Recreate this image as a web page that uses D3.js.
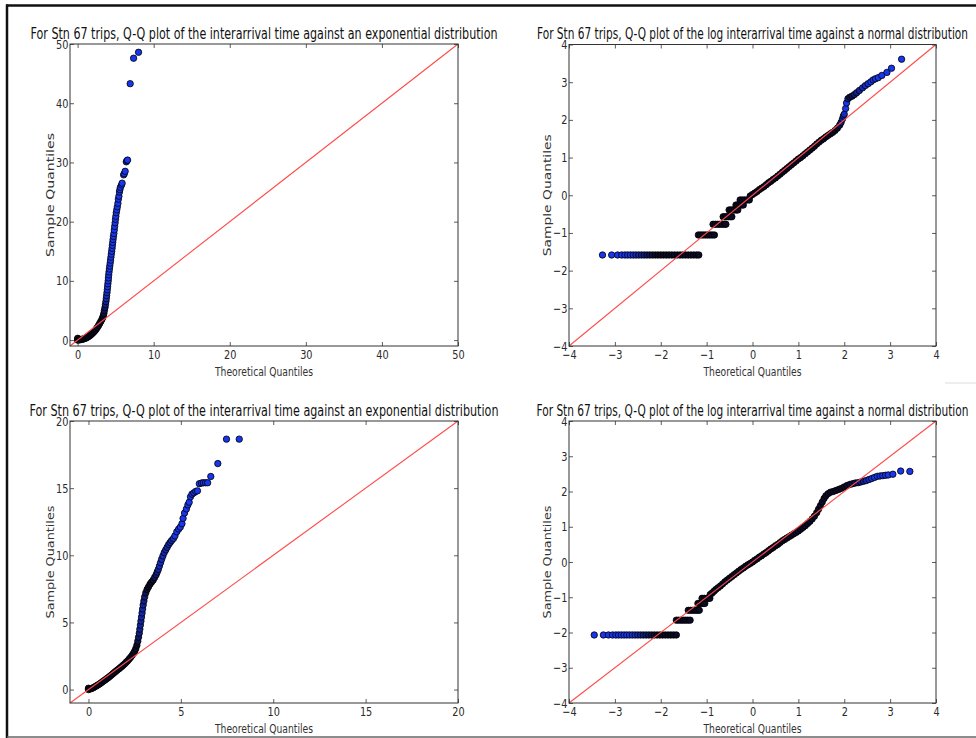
<!DOCTYPE html>
<html>
<head>
<meta charset="utf-8">
<script src="https://cdn.jsdelivr.net/npm/d3@7"></script>
<style>
  html, body { margin: 0; padding: 0; background: #fff; }
  svg { display: block; }
</style>
</head>
<body>
<svg id="chart" width="976" height="738"></svg>
<script>
// ---- text ----
const titleExp = "For Stn 67 trips, Q-Q plot of the interarrival time against an exponential distribution";
const titleLog = "For Stn 67 trips, Q-Q plot of the log interarrival time against a normal distribution";
const xLabel = "Theoretical Quantiles";
const yLabel = "Sample Quantiles";

// ---- tick values ----
const expTopTicks = [0, 10, 20, 30, 40, 50];
const expBottomTicks = [0, 5, 10, 15, 20];
const logTicks = [-4, -3, -2, -1, 0, 1, 2, 3, 4];

// ---- quantile pairs: [theoretical, sample] ----
const expTopPoints = [
  [0,0],[0,0.15],[0.02,0.3],[0.1,0.02],[0.2,0.04],[0.35,0.07],[0.5,0.1],[0.65,0.15],
  [0.8,0.2],[0.95,0.27],[1.1,0.35],[1.25,0.45],[1.4,0.57],[1.55,0.7],[1.7,0.85],
  [1.85,1.02],[2.0,1.2],[2.15,1.4],[2.3,1.62],[2.45,1.87],[2.6,2.15],[2.75,2.45],
  [2.9,2.8],[3.05,3.15],[3.2,3.5],[3.3,3.8],[3.38,4.1],[3.45,4.5],[3.52,5.0],
  [3.6,5.5],[3.66,6.0],[3.72,6.5],[3.77,7.0],[3.81,7.5],[3.86,8.0],[3.9,8.5],
  [3.94,9.0],[3.98,9.5],[4.02,10.0],[4.05,10.5],[4.09,11.0],[4.13,11.5],[4.18,12.0],
  [4.23,12.5],[4.28,13.0],[4.33,13.5],[4.38,14.0],[4.43,14.5],[4.48,15.0],[4.53,15.5],
  [4.57,16.0],[4.62,16.5],[4.66,17.0],[4.71,17.5],[4.77,18.0],[4.82,18.6],[4.87,19.2],
  [4.93,19.8],[4.98,20.4],[5.03,20.9],[5.08,21.5],[5.15,22.0],[5.22,22.5],[5.3,23.1],
  [5.36,23.8],[5.43,24.3],[5.5,25.0],[5.56,25.4],[5.62,25.8],[5.78,26.2],[5.85,26.5],
  [6.05,27.9],[6.13,28.1],[6.25,28.5],[6.4,30.1],[6.48,30.3],[6.57,30.4],
  [6.91,43.3],[7.36,47.6],[8.01,48.6]
];

const expBottomPoints = [
  [0,0],[0,0.1],[0.05,0.05],[0.12,0.05],[0.2,0.1],[0.28,0.15],[0.36,0.22],[0.44,0.28],
  [0.52,0.35],[0.6,0.42],[0.68,0.5],[0.76,0.58],[0.84,0.66],[0.92,0.74],[1.0,0.82],
  [1.08,0.9],[1.16,0.99],[1.24,1.08],[1.32,1.18],[1.4,1.27],[1.48,1.36],[1.56,1.45],
  [1.64,1.54],[1.72,1.63],[1.8,1.72],[1.88,1.82],[1.96,1.92],[2.04,2.03],[2.12,2.14],
  [2.2,2.27],[2.28,2.4],[2.36,2.55],[2.44,2.7],[2.5,2.85],[2.56,3.05],[2.62,3.3],
  [2.67,3.6],[2.71,3.9],[2.75,4.2],[2.78,4.5],[2.81,4.8],[2.84,5.1],[2.87,5.4],
  [2.9,5.7],[2.93,6.0],[2.96,6.3],[3.0,6.6],[3.04,6.9],[3.1,7.2],[3.17,7.45],
  [3.25,7.65],[3.33,7.85],[3.41,8.0],[3.5,8.15],[3.58,8.35],[3.66,8.55],[3.72,8.75],
  [3.78,8.95],[3.84,9.2],[3.9,9.45],[3.96,9.7],[4.03,9.95],[4.1,10.2],[4.18,10.4],
  [4.26,10.6],[4.34,10.8],[4.42,10.95],[4.5,11.1],[4.6,11.25],[4.68,11.45],[4.78,11.75],
  [4.88,11.95],[4.97,12.1],[5.06,12.35],[5.12,12.75],[5.2,13.15],[5.3,13.45],[5.38,13.75],
  [5.45,13.95],[5.52,14.35],[5.6,14.55],[5.7,14.65],[5.8,14.75],[5.9,14.8],[6.0,15.33],
  [6.12,15.38],[6.22,15.4],[6.34,15.4],[6.45,15.4],[6.62,15.87],[7.0,16.83],
  [7.47,18.65],[8.16,18.65]
];

// tied sample values: one sample level shared by a run of theoretical quantiles
const logTopRuns = [
  { sample: -1.585, theo: [-3.27,-3.07,-2.94,-2.85,-2.78,-2.72,-2.66,-2.6,-2.54,-2.48,-2.42,-2.36,
      -2.3,-2.24,-2.18,-2.12,-2.06,-2.0,-1.94,-1.88,-1.82,-1.76,-1.7,-1.64,-1.58,-1.52,-1.46,
      -1.4,-1.34,-1.28,-1.22,-1.17] },
  { sample: -1.054, theo: [-1.18,-1.13,-1.08,-1.03,-0.98,-0.93,-0.88,-0.83] },
  { sample: -0.77,  theo: [-0.86,-0.81,-0.76,-0.71,-0.66,-0.61,-0.58] },
  { sample: -0.57,  theo: [-0.64,-0.6,-0.56,-0.52,-0.48,-0.45] },
  { sample: -0.39,  theo: [-0.51,-0.47,-0.43,-0.39,-0.35,-0.32] },
  { sample: -0.26,  theo: [-0.36,-0.32,-0.28,-0.24,-0.2] },
  { sample: -0.125, theo: [-0.27,-0.22,-0.17,-0.12,-0.07] }
];
const logTopPoints = [
  [-0.05,-0.02],[0,0.02],[0.05,0.06],[0.1,0.1],[0.15,0.15],[0.2,0.19],[0.25,0.23],[0.3,0.28],
  [0.35,0.33],[0.4,0.37],[0.45,0.42],[0.5,0.46],[0.55,0.51],[0.6,0.56],[0.65,0.61],[0.7,0.66],
  [0.75,0.71],[0.8,0.76],[0.85,0.81],[0.9,0.86],[0.95,0.91],[1.0,0.96],[1.05,1.0],[1.1,1.05],
  [1.15,1.1],[1.2,1.15],[1.25,1.2],[1.3,1.25],[1.35,1.3],[1.4,1.36],[1.45,1.41],[1.5,1.46],
  [1.55,1.5],[1.6,1.55],[1.65,1.59],[1.7,1.63],[1.75,1.67],[1.8,1.72],[1.85,1.78],[1.9,1.86],
  [1.93,1.93],[1.96,2.02],[1.98,2.1],[2.0,2.15],[2.03,2.3],[2.05,2.45],[2.08,2.56],[2.12,2.6],
  [2.17,2.63],[2.22,2.67],[2.27,2.72],[2.33,2.78],[2.4,2.85],[2.46,2.91],[2.52,2.96],
  [2.58,3.01],[2.63,3.06],[2.68,3.09],[2.74,3.12],[2.82,3.18],[2.93,3.26],[3.03,3.37],[3.25,3.61]
];

const logBottomRuns = [
  { sample: -2.07, theo: [-3.45,-3.25,-3.14,-3.05,-2.98,-2.92,-2.86,-2.8,-2.74,-2.68,-2.62,-2.56,
      -2.5,-2.44,-2.38,-2.32,-2.26,-2.2,-2.14,-2.08,-2.02,-1.96,-1.9,-1.84,-1.78,-1.72,-1.66] },
  { sample: -1.65,  theo: [-1.66,-1.61,-1.56,-1.51,-1.46,-1.41,-1.36] },
  { sample: -1.37,  theo: [-1.4,-1.35,-1.3,-1.25,-1.2,-1.16] },
  { sample: -1.175, theo: [-1.19,-1.15,-1.11,-1.07,-1.04] },
  { sample: -1.03,  theo: [-1.1,-1.05,-1.0,-0.96,-0.93] }
];
const logBottomPoints = [
  [-0.92,-0.92],[-0.88,-0.88],[-0.84,-0.83],[-0.8,-0.78],[-0.75,-0.73],[-0.7,-0.68],[-0.65,-0.62],
  [-0.6,-0.56],[-0.55,-0.51],[-0.5,-0.46],[-0.45,-0.41],[-0.4,-0.36],[-0.35,-0.31],[-0.3,-0.26],
  [-0.25,-0.21],[-0.2,-0.17],[-0.15,-0.12],[-0.1,-0.08],[-0.05,-0.04],[0,0],[0.05,0.05],
  [0.1,0.09],[0.15,0.14],[0.2,0.18],[0.25,0.23],[0.3,0.27],[0.35,0.32],[0.4,0.37],[0.45,0.41],
  [0.5,0.46],[0.55,0.5],[0.6,0.55],[0.65,0.6],[0.7,0.64],[0.75,0.68],[0.8,0.72],[0.85,0.76],
  [0.9,0.8],[0.95,0.84],[1.0,0.88],[1.05,0.93],[1.1,0.98],[1.15,1.03],[1.2,1.09],[1.25,1.15],
  [1.3,1.22],[1.35,1.3],[1.4,1.4],[1.44,1.5],[1.48,1.6],[1.52,1.7],[1.56,1.8],[1.6,1.88],
  [1.65,1.94],[1.7,1.98],[1.76,2.0],[1.82,2.03],[1.88,2.06],[1.94,2.09],[2.0,2.13],[2.06,2.17],
  [2.12,2.2],[2.18,2.22],[2.24,2.24],[2.3,2.25],[2.36,2.27],[2.42,2.29],[2.48,2.31],[2.54,2.34],
  [2.6,2.37],[2.66,2.4],[2.72,2.43],[2.78,2.44],[2.84,2.45],[2.9,2.46],[2.96,2.47],[3.06,2.49],
  [3.23,2.58],[3.43,2.57]
];

// ---- layout of the four axes ----
const panels = [
  { title: titleExp, titleW: 467, titleY: 39, domain: [-1, 50], ticks: expTopTicks, dist: "exp",
    points: expTopPoints, runs: [], box: { x0: 70, x1: 458, y0: 44, y1: 346 },
    yLabelX: 53.5, yLabelLen: 124 },
  { title: titleLog, titleW: 431, titleY: 39, domain: [-4, 4], ticks: logTicks, dist: "norm",
    points: logTopPoints, runs: logTopRuns, box: { x0: 569, x1: 936, y0: 44.5, y1: 346 },
    yLabelX: 550.5, yLabelLen: 122 },
  { title: titleExp, titleW: 469, titleY: 416, domain: [-1, 20], ticks: expBottomTicks, dist: "exp",
    points: expBottomPoints, runs: [], box: { x0: 70, x1: 458, y0: 421, y1: 703 },
    yLabelX: 53.5, yLabelLen: 113 },
  { title: titleLog, titleW: 432, titleY: 416, domain: [-4, 4], ticks: logTicks, dist: "norm",
    points: logBottomPoints, runs: logBottomRuns, box: { x0: 569, x1: 936, y0: 421, y1: 703 },
    yLabelX: 550.5, yLabelLen: 113 }
];

const svg = d3.select("#chart");
svg.append("rect").attr("width", 976).attr("height", 738).attr("fill", "#fff");

const fmt = d => (d < 0 ? "\u2212" + Math.abs(d) : String(d));
const font = "'DejaVu Sans', sans-serif";

// Where the sample is thick on the screen, the markers' black edges pile up and
// the trail reads as near-black; in the sparse tails the blue fill shows.
// Thickness ~ reference density at the theoretical quantile / on-screen speed.
const pdf = {
  exp: t => Math.exp(-Math.max(0, t)),
  norm: t => Math.exp(-t * t / 2) / Math.sqrt(2 * Math.PI)
};
const shade = d3.scaleLog().domain([2.5e-4, 1e-3]).range([0, 1]).clamp(true);
const markColor = d3.interpolateRgb("#1836ee", "#0b0b26");

function tonedGroup(pairs, x, y, density) {
  const s = pairs.slice().sort((a, c) => a[0] - c[0]);
  return s.map((d, i) => {
    const a = s[Math.max(0, i - 1)], c = s[Math.min(s.length - 1, i + 1)];
    const dt = Math.max(0.02, c[0] - a[0]);
    const ds = Math.max(0.5, Math.hypot(x(c[0]) - x(a[0]), y(c[1]) - y(a[1])));
    return { t: d[0], v: d[1], tone: shade(density(d[0]) * dt / ds) };
  });
}

panels.forEach(p => {
  const b = p.box;
  const x = d3.scaleLinear().domain(p.domain).range([b.x0, b.x1]);
  const y = d3.scaleLinear().domain(p.domain).range([b.y1, b.y0]);
  const g = svg.append("g");

  // markers, drawn in ascending order of theoretical quantile
  const groups = [p.points].concat(p.runs.map(r => r.theo.map(t => [t, r.sample])));
  const marks = groups.flatMap(gr => tonedGroup(gr, x, y, pdf[p.dist]))
    .sort((a, c) => a.t - c.t);
  g.append("g")
    .selectAll("circle")
    .data(marks)
    .join("circle")
    .attr("cx", d => x(d.t))
    .attr("cy", d => y(d.v))
    .attr("r", 3.2)
    .attr("fill", d => markColor(d.tone))
    .attr("stroke", "#000")
    .attr("stroke-width", 0.8);

  // 45-degree reference line
  g.append("line")
    .attr("x1", x(p.domain[0])).attr("y1", y(p.domain[0]))
    .attr("x2", x(p.domain[1])).attr("y2", y(p.domain[1]))
    .attr("stroke", "#ff4a4a")
    .attr("stroke-width", 1.1);

  // axes: inward ticks on all four sides
  const axB = g.append("g").attr("transform", `translate(0,${b.y1})`)
    .call(d3.axisBottom(x).tickValues(p.ticks).tickSize(-4).tickPadding(4.5).tickFormat(fmt));
  const axT = g.append("g").attr("transform", `translate(0,${b.y0})`)
    .call(d3.axisTop(x).tickValues(p.ticks).tickSize(-4).tickFormat(""));
  const axL = g.append("g").attr("transform", `translate(${b.x0},0)`)
    .call(d3.axisLeft(y).tickValues(p.ticks).tickSize(-4).tickPadding(2).tickFormat(fmt));
  const axR = g.append("g").attr("transform", `translate(${b.x1},0)`)
    .call(d3.axisRight(y).tickValues(p.ticks).tickSize(-4).tickFormat(""));
  [axB, axT, axL, axR].forEach(a => {
    a.select(".domain").remove();
    a.selectAll(".tick line").attr("stroke", "#333").attr("stroke-width", 0.8);
    a.selectAll(".tick text")
      .attr("fill", "#2a2a2a")
      .style("font-family", font)
      .style("font-size", "12.5px")
      .attr("transform", "scale(0.78,1)");
  });

  // frame
  g.append("rect")
    .attr("x", b.x0).attr("y", b.y0)
    .attr("width", b.x1 - b.x0).attr("height", b.y1 - b.y0)
    .attr("fill", "none").attr("stroke", "#333").attr("stroke-width", 1);

  // labels
  const cx = (b.x0 + b.x1) / 2;
  const cy = (b.y0 + b.y1) / 2;
  svg.append("text")
    .attr("x", cx).attr("y", p.titleY)
    .attr("text-anchor", "middle")
    .attr("textLength", p.titleW).attr("lengthAdjust", "spacingAndGlyphs")
    .style("font-family", font).style("font-size", "16.5px")
    .attr("fill", "#111")
    .text(p.title);
  svg.append("text")
    .attr("x", cx).attr("y", b.y1 + 29.5)
    .attr("text-anchor", "middle")
    .attr("textLength", 98).attr("lengthAdjust", "spacingAndGlyphs")
    .style("font-family", font).style("font-size", "12px")
    .attr("fill", "#333")
    .text(xLabel);
  svg.append("text")
    .attr("transform", `translate(${p.yLabelX},${cy}) rotate(-90)`)
    .attr("text-anchor", "middle")
    .attr("textLength", p.yLabelLen).attr("lengthAdjust", "spacingAndGlyphs")
    .style("font-family", font).style("font-size", "10px")
    .attr("fill", "#333")
    .text(yLabel);
});

// figure border
svg.append("line").attr("x1", 6).attr("y1", 5.5).attr("x2", 976).attr("y2", 5.5)
  .attr("stroke", "#111").attr("stroke-width", 2.5);
svg.append("line").attr("x1", 7).attr("y1", 4.5).attr("x2", 7).attr("y2", 738)
  .attr("stroke", "#111").attr("stroke-width", 2.5);
svg.append("line").attr("x1", 7).attr("y1", 737).attr("x2", 976).attr("y2", 737)
  .attr("stroke", "#666").attr("stroke-width", 1.5);
svg.append("line").attr("x1", 945).attr("y1", 383).attr("x2", 976).attr("y2", 383)
  .attr("stroke", "#ddd").attr("stroke-width", 1);
</script>
</body>
</html>
